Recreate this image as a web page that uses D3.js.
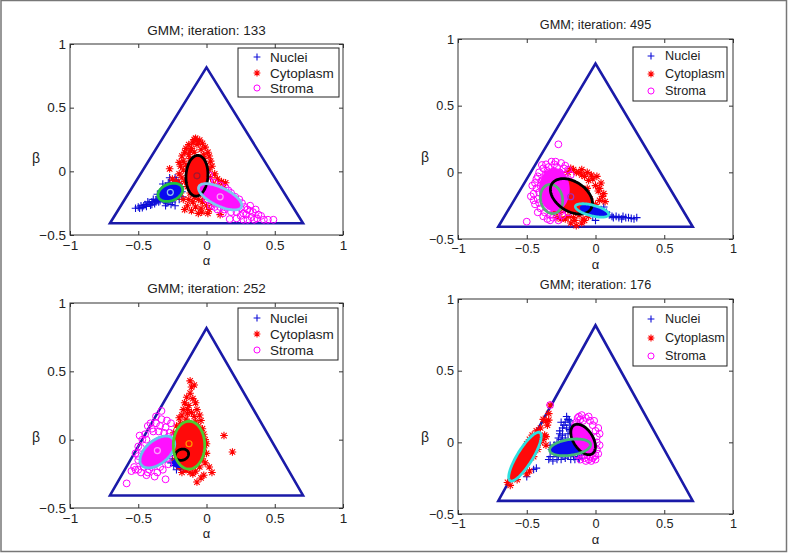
<!DOCTYPE html>
<html><head><meta charset="utf-8">
<script src="https://cdn.jsdelivr.net/npm/d3@7"></script>
<style>body{margin:0;background:#fff}svg{display:block}text{font-family:"Liberation Sans",Arial,sans-serif;fill:#222}</style>
</head><body><svg id="c" width="788" height="553"></svg>
<script>
// ---------- DATA ----------
const seriesNames = ["Nuclei", "Cytoplasm", "Stroma"];
const xTicks = [-1, -0.5, 0, 0.5, 1];
const xTickLabels = ["\u22121", "\u22120.5", "0", "0.5", "1"];
const yTicks = [-0.5, 0, 0.5, 1];
const yTickLabels = ["\u22120.5", "0", "0.5", "1"];
const triangle = [[-0.7071, -0.4082], [0.7071, -0.4082], [0, 0.8165]];
const titles = ["GMM; iteration: 133", "GMM; iteration: 495", "GMM; iteration: 252", "GMM; iteration: 176"];

// iteration 133
const nuclei133 = [[-0.52,-0.29],[-0.5,-0.28],[-0.48,-0.27],[-0.47,-0.285],[-0.45,-0.26],[-0.44,-0.275],[-0.42,-0.25],[-0.41,-0.265],[-0.4,-0.24],[-0.38,-0.255],[-0.37,-0.23],[-0.36,-0.22],[-0.35,-0.24],[-0.34,-0.21],[-0.33,-0.19],[-0.32,-0.22],[-0.31,-0.17],[-0.3,-0.12],[-0.29,-0.25],[-0.28,-0.09],[-0.26,-0.26],[-0.25,-0.07],[-0.23,-0.05],[-0.22,-0.07],[-0.21,-0.09],[-0.23,-0.27],[-0.2,-0.22],[-0.19,-0.12],[-0.18,-0.16],[-0.33,-0.15],[-0.36,-0.18],[-0.27,-0.1],[-0.3,-0.27],[-0.39,-0.22],[-0.43,-0.24],[-0.35,-0.2],[-0.34,-0.23],[-0.31,-0.23],[-0.28,-0.22],[-0.46,-0.27],[-0.49,-0.29],[-0.4,-0.26],[-0.37,-0.24],[-0.32,-0.1],[-0.24,-0.09],[-0.2,-0.1],[-0.18,-0.2],[-0.25,-0.24],[-0.27,-0.05]];
const cyto133 = [[-0.08,0.26],[-0.05,0.245],[-0.1,0.23],[-0.03,0.22],[-0.13,0.21],[-0.07,0.21],[-0.01,0.19],[-0.15,0.18],[-0.11,0.18],[-0.04,0.17],[0.01,0.15],[-0.16,0.15],[-0.09,0.15],[-0.13,0.13],[0.02,0.12],[-0.18,0.12],[-0.17,0.08],[-0.19,0.04],[-0.17,0.01],[-0.2,-0.02],[-0.18,-0.05],[-0.22,-0.08],[-0.2,-0.1],[-0.24,-0.11],[-0.21,-0.14],[-0.25,-0.06],[-0.27,0.02],[-0.19,-0.17],[-0.22,-0.2],[-0.17,-0.22],[0.03,0.08],[0.04,0.04],[0.02,0.01],[0.06,-0.02],[0.03,-0.05],[0.08,-0.06],[0.11,-0.08],[0.14,-0.09],[0.05,-0.1],[0.09,-0.12],[0.12,-0.13],[0.02,-0.15],[-0.13,-0.22],[-0.1,-0.24],[-0.06,-0.22],[-0.03,-0.24],[-0.14,-0.27],[-0.08,-0.28],[-0.04,-0.29],[0.0,-0.27],[-0.11,-0.31],[-0.06,-0.33],[0.02,-0.3],[0.04,-0.25],[-0.02,-0.2],[0.1,-0.34],[-0.035,-0.32],[-0.12,0.1],[-0.02,0.1],[-0.15,0.05],[0.0,0.05],[-0.14,-0.12],[-0.01,-0.12],[-0.16,-0.08],[0.05,-0.14],[-0.09,-0.2],[-0.12,-0.17],[0.07,-0.16],[0.1,-0.18],[-0.06,0.23],[-0.09,0.25],[-0.12,0.16],[-0.02,0.13],[0.0,0.01],[-0.23,-0.16],[-0.26,-0.12],[-0.2,0.07],[0.04,-0.2],[-0.16,-0.3],[0.01,-0.33]];
const stroma133 = [[-0.02,-0.1],[0.02,-0.08],[0.06,-0.09],[0.1,-0.11],[0.14,-0.13],[-0.03,-0.16],[0.18,-0.17],[0.21,-0.2],[0.24,-0.22],[0.26,-0.25],[0.28,-0.28],[0.3,-0.3],[0.32,-0.27],[0.34,-0.32],[0.36,-0.3],[0.38,-0.34],[0.42,-0.38],[0.49,-0.38],[0.27,-0.33],[0.22,-0.32],[0.17,-0.375],[0.12,-0.33],[0.08,-0.3],[0.03,-0.27],[0.0,-0.22],[0.15,-0.28],[0.2,-0.28],[0.25,-0.35],[0.33,-0.36],[0.3,-0.38],[0.05,-0.25],[-0.01,-0.13],[0.22,-0.37],[0.35,-0.38],[0.0,-0.15],[0.04,-0.12],[0.08,-0.13],[0.12,-0.15],[0.16,-0.15],[0.2,-0.24],[0.23,-0.26],[0.25,-0.29],[0.29,-0.34],[0.32,-0.31],[0.37,-0.37],[0.4,-0.35],[0.45,-0.38],[0.13,-0.3],[0.1,-0.28],[0.06,-0.28],[0.18,-0.32],[0.27,-0.38],[0.02,-0.03]];
// ellipses: [series, cx, cy, semi-axis a, semi-axis b, angle (deg)]
const fill133 = [["Nuclei",-0.265,-0.165,0.095,0.065,25],["Cytoplasm",-0.07,-0.035,0.08,0.16,-3],["Stroma",0.1,-0.2,0.175,0.07,-28]];
const outline133 = [["Nuclei",-0.265,-0.165,0.095,0.065,25],["Cytoplasm",-0.07,-0.035,0.08,0.16,-3],["Stroma",0.1,-0.2,0.175,0.07,-28]];
const means133 = [[-0.265,-0.165],[-0.07,-0.035],[0.1,-0.2]];

// iteration 495
const nuclei495 = [[-0.12,-0.27],[-0.08,-0.26],[-0.04,-0.25],[0.0,-0.26],[0.04,-0.28],[0.08,-0.3],[0.1,-0.32],[0.12,-0.33],[0.15,-0.33],[0.17,-0.34],[0.2,-0.33],[0.22,-0.34],[0.24,-0.34],[0.26,-0.345],[0.28,-0.35],[0.3,-0.34],[0.0,-0.36],[-0.02,-0.33],[-0.06,-0.31],[0.06,-0.26],[0.13,-0.34],[0.19,-0.35]];
const cyto495 = [[-0.2,0.0],[-0.16,0.02],[-0.12,0.0],[-0.08,-0.03],[-0.05,-0.06],[-0.02,-0.05],[0.0,-0.1],[0.02,-0.14],[0.05,-0.18],[0.07,-0.22],[-0.1,0.02],[-0.25,-0.02],[-0.3,-0.3],[-0.25,-0.35],[-0.2,-0.33],[-0.15,-0.36],[-0.1,-0.38],[-0.14,-0.4],[-0.12,-0.32],[-0.05,-0.33],[-0.02,-0.3],[-0.18,-0.38],[-0.22,-0.28],[0.04,-0.08],[-0.04,-0.2],[-0.06,-0.12],[0.01,-0.03],[-0.28,-0.34],[-0.09,-0.35],[0.03,-0.21],[-0.14,0.0],[-0.06,0.0],[0.03,-0.12],[0.06,-0.16],[-0.08,-0.36],[-0.16,-0.34],[-0.22,-0.35],[-0.03,-0.27],[0.0,-0.24],[-0.26,-0.3],[-0.18,0.03],[-0.1,-0.02],[-0.03,-0.02]];
const stroma495 = [[-0.27,0.21],[-0.32,0.08],[-0.39,0.055],[-0.25,0.07],[-0.22,0.05],[-0.36,0.06],[-0.38,0.03],[-0.28,0.04],[-0.41,0.0],[-0.35,0.01],[-0.42,-0.03],[-0.39,-0.06],[-0.44,-0.08],[-0.43,-0.12],[-0.45,-0.16],[-0.42,-0.2],[-0.44,-0.24],[-0.4,-0.27],[-0.42,-0.3],[-0.38,-0.33],[-0.33,-0.32],[-0.28,-0.33],[-0.24,-0.32],[-0.2,-0.3],[-0.27,-0.36],[-0.5,-0.37],[-0.16,-0.27],[-0.18,-0.02],[-0.2,-0.05],[-0.31,0.0],[-0.26,0.0],[-0.36,-0.02],[-0.17,-0.1],[-0.47,-0.18],[-0.46,-0.1],[-0.35,-0.35],[-0.3,-0.28],[-0.22,-0.24],[-0.3,0.06],[-0.34,0.04],[-0.23,0.03],[-0.4,-0.1],[-0.41,-0.15],[-0.41,-0.23],[-0.37,-0.3],[-0.31,-0.34],[-0.25,-0.29],[-0.21,-0.26],[-0.19,-0.2],[-0.17,-0.14],[-0.2,0.02],[-0.43,-0.05],[-0.33,-0.36],[-0.45,-0.21],[-0.29,0.08],[-0.34,0.0]];
const fill495 = [["Cytoplasm",-0.175,-0.18,0.17,0.11,-35],["Stroma",-0.3,-0.13,0.105,0.155,0],["Nuclei",-0.01,-0.29,0.1,0.035,-15]];
const outline495 = [["Stroma",-0.32,-0.2,0.11,0.08,100],["Cytoplasm",-0.175,-0.18,0.17,0.11,-35],["Nuclei",-0.025,-0.286,0.125,0.04,-15]];
const means495 = [[-0.18,-0.183]];

// iteration 252
const nuclei252 = [[-0.25,-0.14],[-0.23,-0.17],[-0.21,-0.19],[-0.19,-0.21],[-0.22,-0.22],[-0.18,-0.16],[-0.24,-0.19],[-0.2,-0.14],[-0.16,-0.18],[-0.26,-0.17],[-0.17,-0.22],[-0.2,-0.18]];
const cyto252 = [[-0.12,0.43],[-0.11,0.385],[-0.09,0.4],[-0.145,0.31],[-0.1,0.3],[-0.17,0.22],[-0.07,0.22],[-0.13,0.25],[-0.05,0.18],[-0.2,0.16],[-0.15,0.15],[-0.08,0.13],[-0.22,0.1],[-0.03,0.08],[-0.24,0.05],[-0.01,0.0],[-0.02,-0.06],[0.0,-0.1],[0.128,0.03],[0.19,-0.09],[-0.07,-0.31],[0.04,-0.24],[-0.02,-0.26],[-0.1,-0.25],[-0.15,-0.22],[-0.2,-0.2],[-0.05,-0.2],[-0.01,-0.17],[-0.23,-0.15],[-0.06,0.06],[-0.11,0.2],[-0.18,0.18],[-0.04,0.14],[-0.14,0.19],[0.0,-0.03],[-0.03,-0.14],[-0.12,0.34],[-0.08,0.27],[-0.16,0.27],[-0.19,0.12],[-0.06,0.1],[-0.21,0.02],[-0.22,-0.05],[-0.02,0.04],[-0.04,-0.1],[0.02,-0.2],[-0.08,-0.23],[-0.12,-0.24],[-0.18,-0.24],[-0.04,-0.28],[-0.14,0.22],[-0.09,0.17]];
const stroma252 = [[-0.585,-0.32],[-0.3,-0.29],[-0.33,0.21],[-0.43,0.1],[-0.52,-0.22],[-0.48,-0.24],[-0.26,0.12],[-0.37,0.12],[-0.4,0.08],[-0.3,0.09],[-0.45,0.04],[-0.47,0.0],[-0.5,-0.05],[-0.52,-0.1],[-0.5,-0.15],[-0.46,-0.2],[-0.42,-0.22],[-0.36,-0.24],[-0.32,-0.22],[-0.28,-0.18],[-0.26,-0.1],[-0.25,-0.02],[-0.27,0.05],[-0.35,0.06],[-0.44,-0.26],[-0.38,-0.27],[-0.53,-0.2],[-0.41,0.12],[-0.33,0.15],[-0.49,0.03],[-0.34,0.1],[-0.39,0.06],[-0.44,0.0],[-0.48,-0.06],[-0.5,-0.12],[-0.47,-0.17],[-0.4,-0.2],[-0.34,-0.2],[-0.29,-0.14],[-0.27,-0.06],[-0.28,0.02],[-0.31,0.05],[-0.43,-0.24],[-0.55,-0.23],[-0.5,-0.22],[-0.37,0.17],[-0.29,0.14]];
const fill252 = [["Nuclei",-0.2,-0.17,0.045,0.03,0],["Stroma",-0.36,-0.09,0.15,0.085,40],["Cytoplasm",-0.128,-0.04,0.115,0.175,0]];
const outline252 = [["Nuclei",-0.18,-0.11,0.05,0.04,20],["Stroma",-0.36,-0.09,0.15,0.085,40],["Cytoplasm",-0.128,-0.04,0.115,0.175,0]];
const means252 = [[-0.128,-0.03],[-0.36,-0.08]];

// iteration 176
const nuclei176 = [[-0.3,-0.08],[-0.32,-0.05],[-0.33,-0.1],[-0.31,-0.13],[-0.28,-0.12],[-0.25,-0.12],[-0.22,-0.11],[-0.18,-0.12],[-0.15,-0.12],[-0.12,-0.11],[-0.1,-0.09],[-0.08,-0.07],[-0.26,0.06],[-0.24,0.1],[-0.22,0.14],[-0.2,0.16],[-0.18,0.12],[-0.16,0.09],[-0.22,0.03],[-0.25,0.02],[-0.15,0.04],[-0.13,0.06],[-0.2,0.06],[-0.28,0.0],[-0.5,-0.24],[-0.45,-0.19],[-0.43,-0.18],[-0.48,-0.12],[-0.3,-0.02],[-0.21,0.18],[-0.33,-0.02],[-0.29,-0.07],[-0.27,-0.1],[-0.24,-0.08],[-0.2,-0.09],[-0.16,-0.1],[-0.13,-0.08],[-0.11,-0.05],[-0.27,0.03],[-0.24,0.05],[-0.19,0.09],[-0.17,0.06],[-0.14,0.02],[-0.23,0.12],[-0.25,0.14],[-0.19,0.15],[-0.26,0.08],[-0.21,0.1],[-0.34,-0.12],[-0.12,-0.12]];
const cyto176 = [[-0.64,-0.28],[-0.62,-0.3],[-0.6,-0.25],[-0.58,-0.2],[-0.56,-0.17],[-0.55,-0.12],[-0.53,-0.08],[-0.51,-0.05],[-0.5,-0.01],[-0.48,0.02],[-0.46,0.05],[-0.43,0.08],[-0.4,0.1],[-0.38,0.16],[-0.36,0.15],[-0.34,0.155],[-0.35,0.12],[-0.37,0.05],[-0.38,0.02],[-0.36,-0.02],[-0.33,0.26],[-0.34,0.2],[-0.45,-0.1],[-0.42,-0.05],[-0.48,-0.2],[-0.5,-0.22],[-0.57,-0.26],[-0.4,0.0],[-0.36,0.04]];
const stroma176 = [[-0.12,0.18],[-0.1,0.19],[-0.07,0.17],[-0.04,0.15],[-0.14,0.14],[-0.02,0.12],[0.0,0.08],[0.01,0.04],[0.01,0.0],[0.01,-0.05],[0.0,-0.09],[-0.02,-0.11],[-0.05,-0.12],[-0.08,-0.11],[-0.11,-0.12],[-0.13,-0.09],[-0.06,-0.09],[-0.03,-0.13],[0.0,-0.12],[-0.33,0.26],[-0.15,0.1],[-0.09,0.15],[-0.13,0.17],[-0.05,0.18],[-0.01,0.15],[0.02,0.1],[0.03,0.06],[0.03,-0.02],[0.02,-0.08],[-0.01,-0.1],[-0.04,-0.1],[-0.07,-0.13],[-0.1,-0.1],[-0.15,0.12],[-0.11,0.16]];
const fill176 = [["Cytoplasm",-0.513,-0.1,0.19,0.045,57],["Nuclei",-0.19,-0.035,0.14,0.05,8],["Stroma",-0.09,0.02,0.12,0.07,-55]];
const outline176 = [["Stroma",-0.09,0.02,0.12,0.07,-55],["Nuclei",-0.185,-0.035,0.15,0.055,8],["Cytoplasm",-0.513,-0.1,0.2,0.055,57]];
const means176 = [];

// ---------- STYLE / LAYOUT ----------
const seriesColor = {Nuclei:"#0d0dd8", Cytoplasm:"#ff0000", Stroma:"#ff00ff"};
const fillColor = {Nuclei:"#0a0af0", Cytoplasm:"#ff0a0a", Stroma:"#ff10ff"};
const panels = [
  {title:titles[0], pts:[nuclei133,cyto133,stroma133], fills:fill133, outlines:outline133, oc:["#22c040","#000","#7ec8f0"], means:means133, mc:["#8fbfee","#a01830","#f5a8f5"],
   L:{x0:70,x1:343,y0:44,y1:235,tY:35,fs:13.5,lg:{x:238,y:48,w:101,h:49,rows:[57,73,88],mx:257,tx:270},beta:[36,158]}},
  {title:titles[1], pts:[nuclei495,cyto495,stroma495], fills:fill495, outlines:outline495, oc:["#5aae7a","#000","#33dede"], means:means495, mc:["#9a33cc"],
   L:{x0:458,x1:733,y0:39,y1:239,tY:29,fs:12.7,lg:{x:633,y:47,w:94,h:54,rows:[56,74,91],mx:651,tx:665},beta:[425,157]}},
  {title:titles[2], pts:[nuclei252,cyto252,stroma252], fills:fill252, outlines:outline252, oc:["#000","#62c6ee","#4ccc30"], means:means252, mc:["#ff9a00","#ffa0ff"],
   L:{x0:70,x1:343,y0:303,y1:508,tY:293,fs:13.5,lg:{x:238,y:308,w:100,h:52,rows:[318,334,350],mx:257,tx:270},beta:[36,437]}},
  {title:titles[3], pts:[nuclei176,cyto176,stroma176], fills:fill176, outlines:outline176, oc:["#000","#44b878","#2ee0e0"], means:means176, mc:[],
   L:{x0:458,x1:733,y0:299,y1:514,tY:289,fs:12.7,lg:{x:633,y:307,w:94,h:59,rows:[319,338,356],mx:651,tx:665},beta:[425,437]}}
];

const svg = d3.select("#c");
svg.append("rect").attr("x",1).attr("y",0.5).attr("width",785.5).attr("height",551).attr("fill","#fff").attr("stroke","#777").attr("stroke-width",1.5);

function marker(sel, series, cx, cy, s){
  const c = seriesColor[series];
  if(series==="Nuclei"){
    sel.append("path").attr("d",`M${cx-s},${cy}H${cx+s}M${cx},${cy-s}V${cy+s}`).attr("stroke",c).attr("stroke-width",1.1).attr("fill","none");
  } else if(series==="Cytoplasm"){
    const d = s*0.72;
    sel.append("path").attr("d",`M${cx-s},${cy}H${cx+s}M${cx},${cy-s}V${cy+s}M${cx-d},${cy-d}L${cx+d},${cy+d}M${cx-d},${cy+d}L${cx+d},${cy-d}`).attr("stroke",c).attr("stroke-width",1.1).attr("fill","none");
  } else {
    sel.append("circle").attr("cx",cx).attr("cy",cy).attr("r",s*0.9).attr("stroke",c).attr("stroke-width",1).attr("fill","none");
  }
}

function ellipsePts(e){
  const [, cx, cy, a, b, ang] = e;
  const th = ang*Math.PI/180, out = [];
  for(let i=0;i<120;i++){
    const t = i/120*2*Math.PI;
    out.push([cx + a*Math.cos(t)*Math.cos(th) - b*Math.sin(t)*Math.sin(th),
              cy + a*Math.cos(t)*Math.sin(th) + b*Math.sin(t)*Math.cos(th)]);
  }
  return out;
}

panels.forEach((p, pi) => {
  const L = p.L;
  const x = d3.scaleLinear().domain([-1,1]).range([L.x0,L.x1]);
  const y = d3.scaleLinear().domain([-0.5,1]).range([L.y1,L.y0]);
  const g = svg.append("g");
  const cid = "clip"+pi;
  g.append("clipPath").attr("id",cid).append("rect").attr("x",L.x0).attr("y",L.y0).attr("width",L.x1-L.x0).attr("height",L.y1-L.y0);
  const plot = g.append("g").attr("clip-path",`url(#${cid})`);
  const line = d3.line().x(d=>x(d[0])).y(d=>y(d[1])).curve(d3.curveLinearClosed);

  plot.append("path").datum(triangle).attr("d",line).attr("fill","none").attr("stroke","#1a1aa8").attr("stroke-width",2.6).attr("stroke-linejoin","miter");

  p.pts.forEach((arr, si) => {
    const sg = plot.append("g");
    arr.forEach(d => marker(sg, seriesNames[si], x(d[0]), y(d[1]), 3.8));
  });
  p.fills.forEach(e => {
    plot.append("path").datum(ellipsePts(e)).attr("d",line).attr("fill",fillColor[e[0]]).attr("stroke",fillColor[e[0]]).attr("stroke-width",2);
  });
  p.outlines.forEach((e,i) => {
    plot.append("path").datum(ellipsePts(e)).attr("d",line).attr("fill","none").attr("stroke",p.oc[i]).attr("stroke-width",2.8);
  });
  p.means.forEach((m,i) => {
    plot.append("circle").attr("cx",x(m[0])).attr("cy",y(m[1])).attr("r",3).attr("fill","none").attr("stroke",p.mc[i]).attr("stroke-width",1.2);
  });

  const fs = L.fs + "px";
  const ax = d3.axisBottom(x).tickValues(xTicks).tickFormat((d,i)=>xTickLabels[i]).tickSizeInner(-4).tickSizeOuter(0).tickPadding(5);
  const gx = g.append("g").attr("transform",`translate(0,${L.y1})`).call(ax);
  const gxt = g.append("g").attr("transform",`translate(0,${L.y0})`).call(d3.axisTop(x).tickValues(xTicks).tickFormat("").tickSizeInner(-4).tickSizeOuter(0));
  const ay = d3.axisLeft(y).tickValues(yTicks).tickFormat((d,i)=>yTickLabels[i]).tickSizeInner(-4).tickSizeOuter(0).tickPadding(4);
  const gy = g.append("g").attr("transform",`translate(${L.x0},0)`).call(ay);
  const gyr = g.append("g").attr("transform",`translate(${L.x1},0)`).call(d3.axisRight(y).tickValues(yTicks).tickFormat("").tickSizeInner(-4).tickSizeOuter(0));
  [gx,gxt,gy,gyr].forEach(a => {
    a.select(".domain").remove();
    a.selectAll("line").attr("stroke","#333");
    a.selectAll("text").attr("font-size",fs).attr("font-family","Liberation Sans, Arial, sans-serif").attr("fill","#222");
  });
  g.append("rect").attr("x",L.x0).attr("y",L.y0).attr("width",L.x1-L.x0).attr("height",L.y1-L.y0).attr("fill","none").attr("stroke","#333").attr("stroke-width",1);

  g.append("text").attr("x",(L.x0+L.x1)/2).attr("y",L.tY).attr("text-anchor","middle").attr("font-size",fs).text(p.title);
  g.append("text").attr("x",(L.x0+L.x1)/2).attr("y",L.y1+30).attr("text-anchor","middle").attr("font-size","13px").attr("font-family","Liberation Serif, DejaVu Serif, serif").attr("fill","#444").text("\u03b1");
  g.append("text").attr("x",L.beta[0]).attr("y",L.beta[1]).attr("text-anchor","middle").attr("dominant-baseline","central").attr("font-size","14px").attr("font-family","Liberation Serif, DejaVu Serif, serif").attr("fill","#444").text("\u03b2");

  const lg = L.lg;
  g.append("rect").attr("x",lg.x).attr("y",lg.y).attr("width",lg.w).attr("height",lg.h).attr("fill","#fff").attr("stroke","#222").attr("stroke-width",1);
  seriesNames.forEach((s,i) => {
    marker(g, s, lg.mx, lg.rows[i], 3.4);
    g.append("text").attr("x",lg.tx).attr("y",lg.rows[i]).attr("dominant-baseline","central").attr("font-size",fs).text(s);
  });
});
</script></body></html>
